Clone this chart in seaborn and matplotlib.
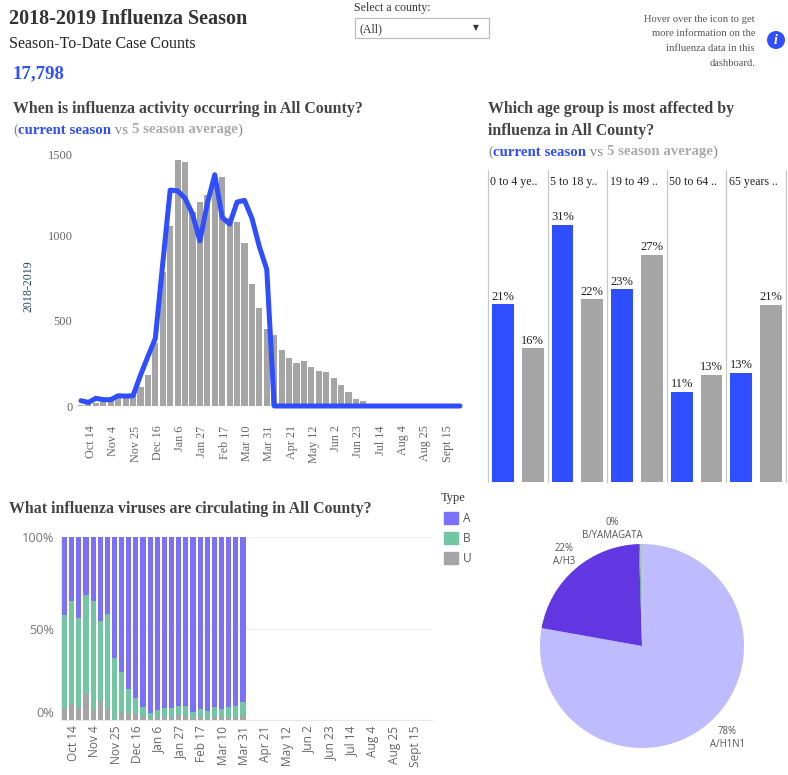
import matplotlib
matplotlib.use("Agg")
import matplotlib.pyplot as plt
from matplotlib.patches import Patch, Rectangle, Circle
from matplotlib.transforms import ScaledTranslation
import numpy as np
import pandas as pd
import seaborn as sns

W, H = 788, 775
BLUE = "#2F4EFF"
GRAY = "#A5A5A5"
PURPLE = "#7B70F8"
GREEN = "#73C6A3"
SERIF = "Liberation Serif"
SANS = "Open Sans"

week_ticks = ["Oct 14", "Nov 4", "Nov 25", "Dec 16", "Jan 6", "Jan 27", "Feb 17", "Mar 10",
              "Mar 31", "Apr 21", "May 12", "Jun 2", "Jun 23", "Jul 14", "Aug 4", "Aug 25", "Sept 15"]

avg_cases = [6, 10, 20, 22, 30, 45, 55, 65, 113, 182, 370, 787, 1055, 1441, 1430, 1139, 1195, 1236,
             1290, 1342, 1100, 1078, 955, 715, 574, 451, 416, 328, 281, 252, 264, 228, 205, 199,
             164, 123, 82, 41, 29, 5, 3, 3, 2, 2, 2, 2, 2, 2, 2, 2, 2, 2]
cur_cases = [31, 21, 45, 37, 37, 60, 58, 60, 180, 290, 396, 836, 1265, 1261, 1217, 1125, 967, 1187,
             1355, 1105, 1066, 1195, 1205, 1100, 934, 800, 0, 0, 0, 0, 0, 0, 0, 0, 0, 0, 0, 0, 0,
             0, 0, 0, 0, 0, 0, 0, 0, 0, 0, 0, 0, 0]

age_groups = ["0 to 4 ye..", "5 to 18 y..", "19 to 49 ..", "50 to 64 ..", "65 years .."]
age_current = [21.4, 31.0, 23.2, 10.9, 13.1]
age_average = [16.1, 22.0, 27.4, 12.9, 21.3]
age_cur_labels = ["21%", "31%", "23%", "11%", "13%"]
age_avg_labels = ["16%", "22%", "27%", "13%", "21%"]

type_u = [5.8, 9, 7, 14.4, 5.5, 10.4, 5.5, 0, 4.4, 3.8, 3.5, 2.4, 0.4, 1.3, 1.6, 1.3, 2.7, 2.7, 1.3,
          1.6, 0.4, 1.6, 1.6, 0.9, 1.6, 2.4]
type_ub = [57.5, 65, 56, 68.4, 65, 54, 58, 34, 26.3, 17, 12, 7, 3.8, 5.5, 6.6, 6.6, 7.7, 7.7, 4.4,
           6, 5, 7, 6, 7, 7.7, 9.9]

pie_names = ["A/H1N1", "A/H3", "B/YAMAGATA", "B/VICTORIA"]
pie_values = [77.7, 21.7, 0.2, 0.4]
pie_colors = ["#BEBCFF", "#6236E0", "#4E9A78", "#9FC4C0"]


def px_axes(fig, left, top, right, bottom):
    return fig.add_axes([left / W, 1 - bottom / H, (right - left) / W, (bottom - top) / H])


def px_text(fig, x, y, s, **kw):
    kw.setdefault("family", SERIF)
    kw.setdefault("va", "center")
    return fig.text(x / W, 1 - y / H, s, **kw)


def chain_text(fig, x, y, parts, size):
    # coloured words on one line
    rend = fig.canvas.get_renderer()
    for s, color, weight in parts:
        t = px_text(fig, x, y, s, color=color, fontweight=weight, fontsize=size)
        x = t.get_window_extent(rend).x1


def nudge_labels(fig, labels, dx_px):
    off = ScaledTranslation(dx_px / fig.dpi, 0, fig.dpi_scale_trans)
    for lab in labels:
        lab.set_transform(lab.get_transform() + off)


sns.set_theme(style="white")
fig = plt.figure(figsize=(W / 100, H / 100), dpi=100, facecolor="white")

# header
px_text(fig, 9, 19, "2018-2019 Influenza Season", fontsize=14.5, fontweight="bold", color="#333333")
px_text(fig, 9, 44, "Season-To-Date Case Counts", fontsize=11.5, color="#222222")
px_text(fig, 13, 74, "17,798", fontsize=13.5, fontweight="bold", color=BLUE)
px_text(fig, 354, 8, "Select a county:", fontsize=8.6, color="#333333")
fig.add_artist(Rectangle((355 / W, 1 - 38 / H), 134 / W, 20 / H, transform=fig.transFigure,
                         fc="white", ec="#BDBDBD", lw=0.9))
px_text(fig, 359, 29, "(All)", fontsize=8.6, color="#333333")
px_text(fig, 476, 28, "▼", fontsize=5.5, color="#333333", family="DejaVu Sans", ha="center")
info_lines = ["Hover over the icon to get", "more information on the", "influenza data in this", "dashboard."]
for i, line in enumerate(info_lines):
    px_text(fig, 755, 19 + 14.7 * i, line, fontsize=7.6, color="#555555", ha="right")
fig.add_artist(Circle((7.76, 7.75 - 0.40), 0.09, transform=fig.dpi_scale_trans, fc=BLUE, ec="none"))
px_text(fig, 776, 40, "i", fontsize=10, fontweight="bold", fontstyle="italic", color="white", ha="center")

# chart titles
TITLE = dict(fontsize=11.4, fontweight="bold", color="#444444")
px_text(fig, 13, 109, "When is influenza activity occurring in All County?", **TITLE)
px_text(fig, 488, 109, "Which age group is most affected by", **TITLE)
px_text(fig, 488, 131, "influenza in All County?", **TITLE)
px_text(fig, 9, 509, "What influenza viruses are circulating in All County?", **TITLE)
fig.canvas.draw()
sub = [("(", "#888888", "normal"), ("current season", BLUE, "bold"), (" vs ", "#888888", "normal"),
       ("5 season average", "#ABABAB", "bold"), (")", "#888888", "normal")]
chain_text(fig, 13, 130, sub, 10.7)
chain_text(fig, 488, 152, sub, 10.7)

# weekly case counts
ax = px_axes(fig, 77.3, 150, 463.7, 406)
weeks = np.arange(len(avg_cases))
sns.barplot(x=weeks, y=avg_cases, color=GRAY, saturation=1, width=0.82, linewidth=0, ax=ax)
sns.lineplot(x=weeks, y=cur_cases, color=BLUE, lw=3.6, ax=ax, clip_on=False, solid_joinstyle="round")
ax.set_xlim(-0.5, 51.5)
ax.set_ylim(0, 1500)
ax.set_xticks(weeks[1::3], week_ticks)
ax.set_yticks([0, 500, 1000, 1500], ["0", "500", "1000", "1500"])
ax.tick_params(axis="x", length=0, pad=14, labelsize=8.7, labelcolor="#666666", labelrotation=90)
ax.tick_params(axis="y", length=3.5, width=0.6, color="#E4E4E4", pad=0, labelsize=9, labelcolor="#666666")
for lab in ax.get_xticklabels() + ax.get_yticklabels():
    lab.set_family(SERIF)
ax.get_yticklabels()[-1].set_va("top")
nudge_labels(fig, ax.get_xticklabels(), 2.5)
ax.set_ylabel("")
sns.despine(ax=ax, left=True, bottom=True)
px_text(fig, 28, 286, "2018-2019", fontsize=8.6, rotation=90, ha="center", color="#24476B")

# age groups
ax = px_axes(fig, 488, 170, 786, 482)
df_age = pd.DataFrame({
    "age": age_groups * 2,
    "season": ["current"] * 5 + ["average"] * 5,
    "share": age_current + age_average,
})
sns.barplot(data=df_age, x="age", y="share", hue="season", palette={"current": BLUE, "average": GRAY},
            saturation=1, width=1, gap=0.27, linewidth=0, legend=False, ax=ax)
ax.set_xlim(-0.5, 4.5)
ax.set_ylim(0, 312 / 24.9 * 3)
ax.set_xticks([])
ax.set_yticks([])
ax.set_xlabel("")
ax.set_ylabel("")
sns.despine(ax=ax, left=True, bottom=True)
for edge in np.arange(-0.5, 5):
    ax.axvline(edge, color="#C8C8C8", lw=0.9, clip_on=False)
for i, name in enumerate(age_groups):
    ax.text(i - 0.46, 0.96, name, transform=ax.get_xaxis_transform(), family=SERIF, fontsize=8.6,
            color="#222222", va="center", ha="left")
    ax.text(i - 0.25, age_current[i] + 0.22, age_cur_labels[i], family=SERIF, fontsize=9,
            color="#222222", va="bottom", ha="center")
    ax.text(i + 0.25, age_average[i] + 0.22, age_avg_labels[i], family=SERIF, fontsize=9,
            color="#222222", va="bottom", ha="center")

# virus types, stacked
ax = px_axes(fig, 61, 537, 432, 720)
idx = np.arange(len(type_u))
sns.barplot(x=idx, y=[100] * len(idx), color=PURPLE, saturation=1, width=0.72, linewidth=0, ax=ax)
sns.barplot(x=idx, y=type_ub, color=GREEN, saturation=1, width=0.72, linewidth=0, ax=ax)
sns.barplot(x=idx, y=type_u, color=GRAY, saturation=1, width=0.72, linewidth=0, ax=ax)
ax.set_xlim(-0.5, 51.5)
ax.set_ylim(0, 100)
ax.set_xticks(weeks[1::3], week_ticks)
ax.set_yticks([0, 50, 100], ["0%", "50%", "100%"])
ax.yaxis.grid(True, color="#F0F0F0", lw=0.9)
ax.set_axisbelow(True)
ax.tick_params(axis="x", length=3, width=0.6, color="#E4E4E4", pad=1, labelsize=8.6,
               labelcolor="#666666", labelrotation=90)
ax.tick_params(axis="y", length=0, pad=5, labelsize=9.2, labelcolor="#777777")
for lab in ax.get_xticklabels() + ax.get_yticklabels():
    lab.set_family(SANS)
ax.get_yticklabels()[0].set_va("bottom")
nudge_labels(fig, ax.get_xticklabels(), 1.5)
ax.set_ylabel("")
sns.despine(ax=ax)
for side in ["left", "bottom"]:
    ax.spines[side].set_color("#E8E8E8")
    ax.spines[side].set_linewidth(0.8)

fig.legend(handles=[Patch(color=PURPLE, label="A"), Patch(color=GREEN, label="B"), Patch(color=GRAY, label="U")],
           loc="upper left", bbox_to_anchor=(444 / W, 1 - 512 / H), frameon=False,
           handlelength=1.17, handleheight=1.17, handletextpad=0.4,
           labelspacing=0.6, borderpad=0, borderaxespad=0,
           prop={"family": SANS, "size": 8.6}, labelcolor="#555555")
px_text(fig, 441, 498, "Type", fontsize=9, color="#333333")

# subtypes pie
ax = px_axes(fig, 540, 544, 744, 748)
ax.pie(pie_values, colors=pie_colors, startangle=89.6, counterclock=False, radius=1,
       wedgeprops={"linewidth": 0})
ax.set_xlim(-1, 1)
ax.set_ylim(-1, 1)
PIE = dict(family=SANS, fontsize=6.9, color="#555555", ha="center", linespacing=1.25)
px_text(fig, 612, 529, "0%\nB/YAMAGATA", **PIE)
px_text(fig, 564, 555, "22%\nA/H3", **PIE)
px_text(fig, 727, 738, "78%\nA/H1N1", **PIE)

fig.savefig("out.png", dpi=100)
